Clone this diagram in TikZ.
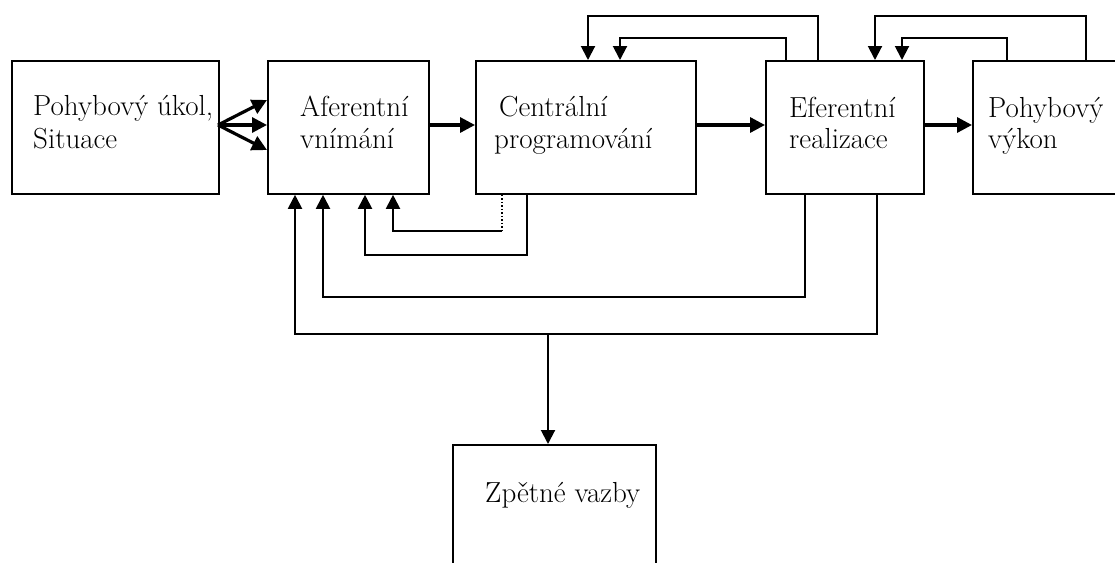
\documentclass[tikz,border=0pt]{standalone}
\usepackage{fontspec}
\usetikzlibrary{arrows.meta}
\begin{document}
\begin{tikzpicture}[x=1pt,y=-1pt,
  box/.style={draw,line width=1.8pt,inner sep=0pt,anchor=north west},
  txt/.style={anchor=base west,inner sep=0pt,font=\fontsize{29}{32}\selectfont},
  tip/.style={-{Triangle[length=14pt,width=14pt]}},
  main/.style={line width=3.2pt,-{Triangle[length=15pt,width=15pt]}},
  fb/.style={line width=2pt,tip},
  fbline/.style={line width=2pt}]
\useasboundingbox (0,0) rectangle (1115,562);
\clip (0,0) rectangle (1115,562);
% boxes
\node[box,minimum width=207pt,minimum height=133pt] (b1) at (11,60) {};
\node[box,minimum width=161pt,minimum height=133pt] (b2) at (267,60) {};
\node[box,minimum width=220pt,minimum height=133pt] (b3) at (475,60) {};
\node[box,minimum width=158pt,minimum height=133pt] (b4) at (765,60) {};
\node[box,minimum width=170pt,minimum height=133pt] (b5) at (972,60) {};
\node[box,minimum width=203pt,minimum height=160pt] (b6) at (452,444) {};
% texts
\node[txt] (t1a) at (33,115) {Pohybový úkol,};
\node[txt] (t1b) at (33,148) {Situace};
\node[txt] (t2a) at (300,116) {Aferentní};
\node[txt] (t2b) at (300,148) {vnímání};
\node[txt] (t3a) at (499,116) {Centrální};
\node[txt] (t3b) at (494,148) {programování};
\node[txt] (t4a) at (789,117) {Eferentní};
\node[txt] (t4b) at (789,148) {realizace};
\node[txt] (t5a) at (988,117) {Pohybový};
\node[txt] (t5b) at (988,148) {výkon};
\node[txt] (t6) at (485,502) {Zpětné vazby};
% coordinates
\coordinate (fan) at (218,125);
\coordinate (yA) at (0,100);
\coordinate (yB) at (0,125);
\coordinate (yC) at (0,150);
% main arrows
\draw[main] (fan) -- (b2.west |- yA);
\draw[main] (fan) -- (b2.west |- yB);
\draw[main] (fan) -- (b2.west |- yC);
\draw[main] (b2.east |- yB) -- (b3.west |- yB);
\draw[main] (b3.east |- yB) -- (b4.west |- yB);
\draw[main] (b4.east |- yB) -- (b5.west |- yB);
% top feedback loops
\draw[fb] (b4.north -| 818,0) -- (818,16) -- (588,16) -- (b3.north -| 588,0);
\draw[fb] (b4.north -| 786,0) -- (786,38) -- (620,38) -- (b3.north -| 620,0);
\draw[fb] (b5.north -| 1086,0) -- (1086,16) -- (875,16) -- (b4.north -| 875,0);
\draw[fb] (b5.north -| 1007,0) -- (1007,38) -- (902,38) -- (b4.north -| 902,0);
% bottom feedback loops
\draw[line width=1.5pt,dotted] (b3.south -| 502,0) -- (502,231);
\draw[fb] (502,231) -- (393,231) -- (b2.south -| 393,0);
\draw[fb] (b3.south -| 527,0) -- (527,255) -- (365,255) -- (b2.south -| 365,0);
\draw[fb] (b4.south -| 805,0) -- (805,297) -- (323,297) -- (b2.south -| 323,0);
\draw[fb] (b4.south -| 877,0) -- (877,334) -- (295,334) -- (b2.south -| 295,0);
\coordinate (br) at (548,334);
\draw[fb] (br) -- (b6.north -| br);
\end{tikzpicture}
\end{document}
